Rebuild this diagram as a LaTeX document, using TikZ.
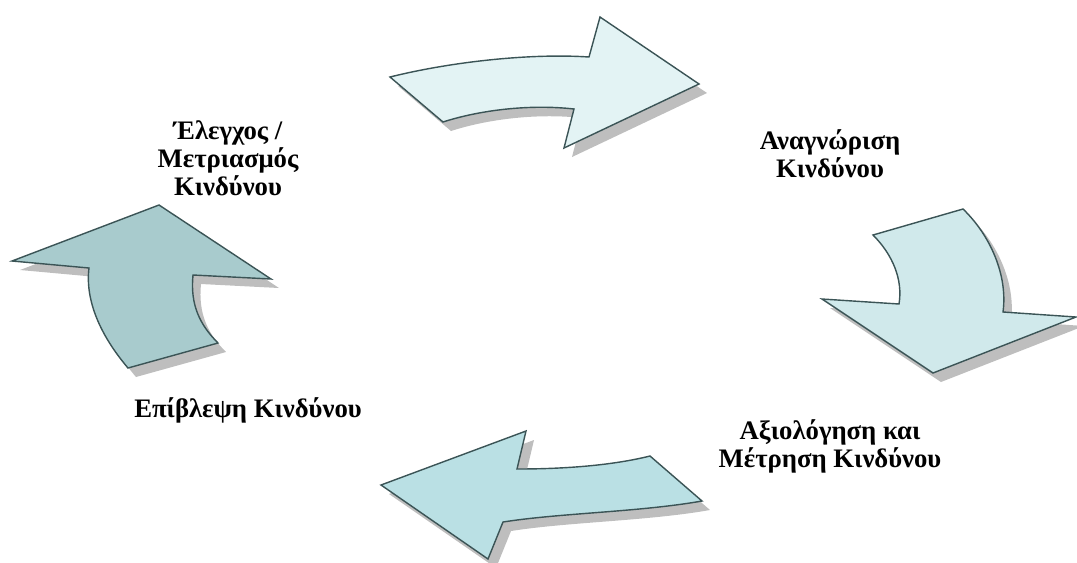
\documentclass[tikz,border=0pt]{standalone}
\usepackage{fontspec}
\setmainfont{Liberation Serif}
\usetikzlibrary{positioning}
\definecolor{edgecol}{RGB}{59,84,86}
\definecolor{shadecol}{RGB}{190,190,190}
\definecolor{fillA}{RGB}{227,243,244}
\definecolor{fillB}{RGB}{208,233,235}
\definecolor{fillC}{RGB}{186,224,228}
\definecolor{fillD}{RGB}{168,203,205}
\tikzset{font=\fontsize{19}{20}\selectfont\bfseries}
\tikzset{bigarrow/.style={draw=edgecol, line width=1pt, line join=miter}}
\tikzset{arrowshade/.style={fill=shadecol, shift={(8,9)}}}
\tikzset{lbl/.style={align=center, inner sep=0pt}}

% the four bent arrows (pixel coordinates, y down)
\newcommand{\arrowA}{(390,77) .. controls (450,62) and (530,53) .. (589,57) -- (600,17) -- (699,84)
  -- (564,148) -- (574,109) .. controls (530,104) and (480,110) .. (443,122) -- cycle}
\newcommand{\arrowB}{(873,235) -- (963,209) .. controls (990,235) and (1008,275) .. (1003,312)
  -- (1076,317) -- (933,373) -- (822,299) -- (899,304) .. controls (903,280) and (893,255) .. (873,235) -- cycle}
\newcommand{\arrowC}{(526,431) -- (517,469) .. controls (560,469) and (610,466) .. (650,456) -- (702,501)
  .. controls (640,512) and (560,513) .. (503,522) -- (488,559) -- (381,485) -- cycle}
\newcommand{\arrowD}{(12,261) -- (159,205) -- (271,279) -- (193,275) .. controls (190,305) and (200,325) .. (218,343)
  -- (128,368) .. controls (100,335) and (85,300) .. (89,268) -- cycle}

\begin{document}
\begin{tikzpicture}[x=0.025cm, y=-0.025cm]
  \useasboundingbox (0,0) rectangle (1077,562);

  % shadows
  \fill[arrowshade] \arrowA;
  \fill[arrowshade] \arrowB;
  \fill[arrowshade] \arrowC;
  \fill[arrowshade] \arrowD;

  \filldraw[bigarrow, fill=fillA] \arrowA;
  \filldraw[bigarrow, fill=fillB] \arrowB;
  \filldraw[bigarrow, fill=fillC] \arrowC;
  \filldraw[bigarrow, fill=fillD] \arrowD;

  \node[lbl] (control) at (228,158) {Έλεγχος /\\Μετριασμός\\Κινδύνου};
  \node[lbl] (identify) at (830,154) {Αναγνώριση\\Κινδύνου};
  \node[lbl] (assess) at (830,446) {Αξιολόγηση και\\Μέτρηση Κινδύνου};
  \node[lbl] (monitor) at (248,410) {Επίβλεψη Κινδύνου};
\end{tikzpicture}
\end{document}
